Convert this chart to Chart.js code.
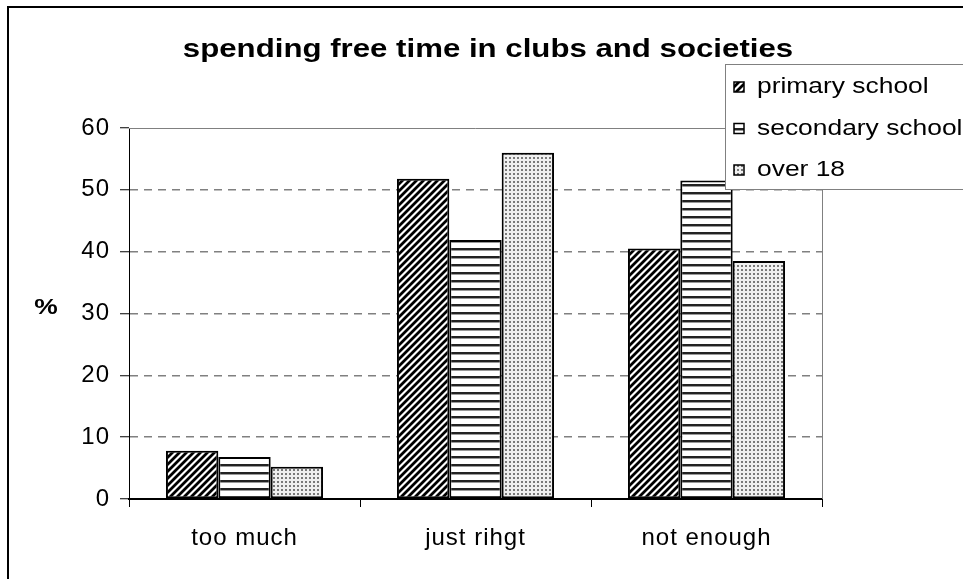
<!DOCTYPE html>
<html>
<head>
<meta charset="utf-8">
<title>spending free time in clubs and societies</title>
<script src="https://cdn.jsdelivr.net/npm/chart.js@4/dist/chart.umd.min.js"></script>
<style>
  html, body { margin: 0; padding: 0; background: #fff; overflow: hidden; }
  canvas { display: block; }
</style>
</head>
<body>
<canvas id="clubs-chart" width="963" height="579"></canvas>
<script>
// --- Data ---
const categories = ['too much', 'just rihgt', 'not enough'];
const seriesNames = ['primary school', 'secondary school', 'over 18'];
const primarySchool = [7.8, 51.8, 40.5];
const secondarySchool = [6.8, 41.9, 51.5];
const over18 = [5.2, 56.0, 38.5];
const yMin = 0, yMax = 60, yStep = 10;

const FONT = '"Liberation Sans", Arial, Helvetica, sans-serif';
const TEXT_STRETCH = 1.2; // the old office-style text is wide

// --- Fill patterns (hatch / lines / dots) ---
function makeTile(w, h, paint) {
  const c = document.createElement('canvas');
  c.width = w; c.height = h;
  const g = c.getContext('2d');
  paint(g, w, h);
  return document.createElement('canvas').getContext('2d').createPattern(c, 'repeat');
}
const diagPattern = makeTile(7, 7, (g, w, h) => {
  g.fillStyle = '#fff';
  g.fillRect(0, 0, w, h);
  for (let y = 0; y < h; y++) {
    for (let x = 0; x < w; x++) {
      const m = (x + y) % 7;
      if (m < 3) g.fillStyle = '#000';
      else if (m === 3 || m === 6) g.fillStyle = '#888';
      else continue;
      g.fillRect(x, y, 1, 1);
    }
  }
});
const linePattern = makeTile(4, 8, (g, w) => {
  g.fillStyle = '#fff';
  g.fillRect(0, 0, w, 8);
  g.fillStyle = '#222';
  g.fillRect(0, 0, w, 2);
  g.fillStyle = '#999';
  g.fillRect(0, 2, w, 1);
});
const dotPattern = makeTile(4, 4, (g, w, h) => {
  g.fillStyle = '#f0f0f0';
  g.fillRect(0, 0, w, h);
  g.fillStyle = '#7a7a7a';
  g.fillRect(1, 1, 2, 2);
});
const fills = [diagPattern, linePattern, dotPattern];
const seriesData = [primarySchool, secondarySchool, over18];

// draw text squeezed wider around its anchor point
function wideText(ctx, text, x, y) {
  ctx.save();
  ctx.translate(x, y);
  ctx.scale(TEXT_STRETCH, 1);
  ctx.fillText(text, 0, 0);
  ctx.restore();
}

// --- Extra drawing: frame, plot border, title, % label, legend ---
const decorPlugin = {
  id: 'decor',
  beforeDraw(chart) {
    const ctx = chart.ctx;
    ctx.save();
    ctx.fillStyle = '#fff';
    ctx.fillRect(0, 0, chart.width, chart.height);
    // outer frame (only left/top edges fall inside the window)
    ctx.strokeStyle = '#000';
    ctx.lineWidth = 2;
    ctx.beginPath();
    ctx.moveTo(8, chart.height + 2);
    ctx.lineTo(8, 7);
    ctx.lineTo(chart.width + 2, 7);
    ctx.stroke();
    ctx.restore();
    // a bit of tracking for the axis labels
    ctx.letterSpacing = '1px';
  },
  afterDraw(chart) {
    const ctx = chart.ctx;
    const a = chart.chartArea;
    ctx.letterSpacing = '0px';
    ctx.save();
    // plot area border, top and right
    ctx.strokeStyle = '#808080';
    ctx.lineWidth = 1;
    ctx.beginPath();
    ctx.moveTo(a.left, a.top + 0.5);
    ctx.lineTo(a.right + 0.5, a.top + 0.5);
    ctx.lineTo(a.right + 0.5, a.bottom);
    ctx.stroke();

    // title
    ctx.fillStyle = '#000';
    ctx.font = 'bold 26px ' + FONT;
    ctx.textAlign = 'center';
    ctx.textBaseline = 'middle';
    wideText(ctx, 'spending free time in clubs and societies', 488, 50);

    // y axis label
    ctx.font = 'bold 22px ' + FONT;
    wideText(ctx, '%', 46, 308);

    // legend
    const lx = 725, ly = 64, lw = 260, lh = 125;
    ctx.fillStyle = '#fff';
    ctx.fillRect(lx, ly, lw, lh);
    ctx.strokeStyle = '#808080';
    ctx.strokeRect(lx + 0.5, ly + 0.5, lw, lh);
    ctx.font = '22px ' + FONT;
    ctx.textAlign = 'left';
    chart.data.datasets.forEach((ds, i) => {
      const cy = 87 + i * 41.5;
      ctx.fillStyle = ds.backgroundColor;
      ctx.fillRect(734, cy - 5, 10, 10);
      ctx.strokeStyle = '#000';
      ctx.lineWidth = 1.5;
      ctx.strokeRect(734, cy - 5, 10, 10);
      ctx.fillStyle = '#000';
      wideText(ctx, ds.label, 757, cy);
    });
    ctx.restore();
  }
};

// --- Chart ---
new Chart(document.getElementById('clubs-chart'), {
  type: 'bar',
  data: {
    labels: categories,
    datasets: seriesNames.map((name, i) => ({
      label: name,
      data: seriesData[i],
      backgroundColor: fills[i],
      borderColor: '#000',
      borderWidth: 2,
      borderSkipped: false,
      categoryPercentage: 0.68,
      barPercentage: 1.0
    }))
  },
  options: {
    responsive: false,
    animation: false,
    devicePixelRatio: 1,
    layout: { padding: { left: 0, top: 128, right: 141, bottom: 0 } },
    plugins: {
      legend: { display: false },
      title: { display: false },
      tooltip: { enabled: false }
    },
    scales: {
      x: {
        afterFit: s => { s.height = 80; },
        grid: {
          drawOnChartArea: false,
          drawTicks: true,
          tickLength: 8,
          tickColor: '#000',
          tickWidth: 1
        },
        border: { color: '#000', width: 2 },
        ticks: { color: '#000', font: { family: FONT, size: 24 }, padding: 17 }
      },
      y: {
        min: yMin,
        max: yMax,
        afterFit: s => { s.width = 129; },
        grid: {
          color: c => (c.tick.value === yMin || c.tick.value === yMax) ? 'rgba(0,0,0,0)' : '#808080',
          lineWidth: 1.5,
          tickLength: 9,
          tickColor: '#000',
          tickWidth: 1
        },
        border: { color: '#000', width: 1, dash: [8, 6] },
        ticks: { stepSize: yStep, color: '#000', font: { family: FONT, size: 24 }, padding: 10 }
      }
    }
  },
  plugins: [decorPlugin]
});
</script>
</body>
</html>
